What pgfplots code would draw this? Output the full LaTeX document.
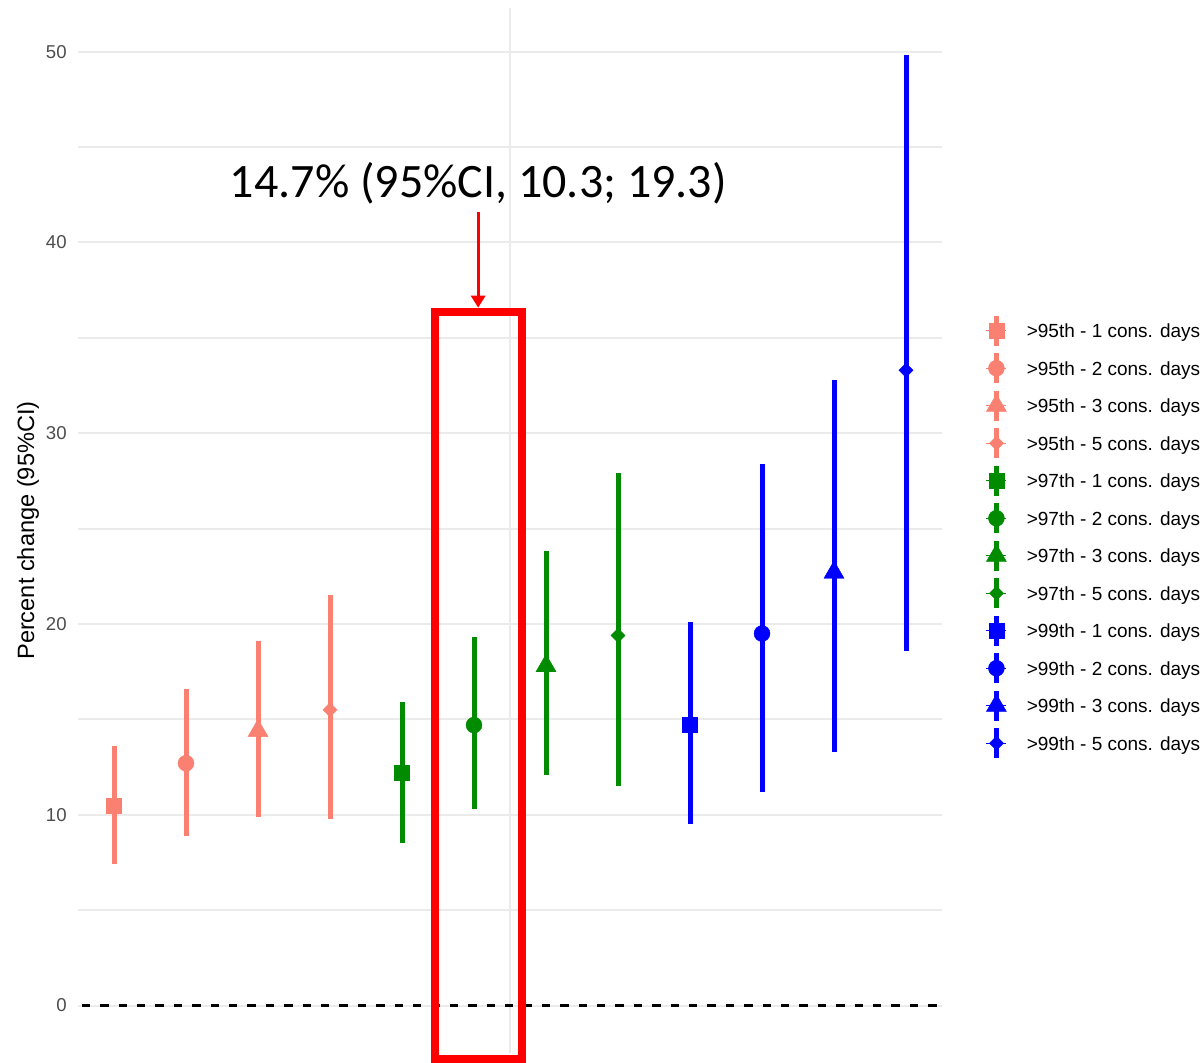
\documentclass[border=0pt]{standalone}
\usepackage{pgfplots}
\pgfplotsset{compat=1.18}
\usepackage{fontspec}
\setmainfont{Liberation Sans}
\newfontfamily\carlito{Carlito}
\usetikzlibrary{arrows.meta}

\definecolor{c95}{HTML}{FA8072}
\definecolor{c97}{HTML}{008B00}
\definecolor{c99}{HTML}{0000FF}
\definecolor{gridgray}{HTML}{EBEBEB}
\definecolor{tickgray}{HTML}{4D4D4D}

\pgfplotsset{
  % point estimate drawn as a mark over its confidence interval
  pointrange/.style={only marks, mark options={solid, line width=0.2pt},
    error bars/y dir=both, error bars/y explicit, error bars/error mark=none,
    error bars/error bar style={line width=2.5pt, solid}},
  diamondmark/.style={mark=square*, mark size=2.5pt,
    mark options={solid, line width=0.2pt, rotate=45}},
  /pgfplots/table/ci/.style={x=x, y=est,
    y error plus expr=\thisrow{hi}-\thisrow{est},
    y error minus expr=\thisrow{est}-\thisrow{lo}},
}

\begin{document}
\begin{tikzpicture}
\useasboundingbox (0,0) rectangle (601pt,531pt);
\begin{axis}[
  at={(39pt,4.5pt)}, anchor=south west,
  scale only axis, width=432pt, height=522.5pt,
  xmin=0.5, xmax=12.5, ymin=-2.49, ymax=52.29,
  clip=false,
  axis line style={draw=none},
  major tick length=0pt, minor tick length=0pt,
  xtick={6.5}, xticklabels={},
  ytick={0,10,20,30,40,50},
  minor ytick={5,15,25,35,45},
  xmajorgrids, ymajorgrids, yminorgrids,
  major grid style={color=gridgray, line width=1pt},
  minor grid style={color=gridgray, line width=1pt},
  /pgf/number format/assume math mode=true,
  yticklabel style={font=\fontsize{9.3}{11}\selectfont, text=tickgray,
    anchor=east, inner sep=0pt, xshift=-5.5pt},
  ylabel={Percent change (95\%CI)},
  every axis y label/.style={at={(axis description cs:-0.0579,0.5)},
    rotate=90, anchor=center, font=\fontsize{11.8}{14}\selectfont},
  legend image code/.code={
    \draw[#1, mark=none, line width=2.3pt, overlay] (0pt,-7.5pt) -- (0pt,7.5pt);
    \draw[#1, overlay] plot coordinates {(0pt,0pt)};
    \path (-5pt,0pt) -- (5pt,0pt);
  },
  legend style={at={(1,0.4938)}, anchor=west, xshift=22pt,
    draw=none, fill=none, inner sep=0pt, outer sep=0pt,
    font=\fontsize{9.5}{11}\selectfont, text=black,
    nodes={inner sep=0pt, text height=8.8pt, text depth=2pt},
    row sep=7.95pt,
    /tikz/every odd column/.append style={column sep=10pt}},
  legend cell align=left,
]
% reference line at zero
\addplot[black, line width=1.3pt, dash pattern=on 4.2pt off 5pt, dash phase=7.3pt, forget plot]
  coordinates {(0.5,0) (12.5,0)};

% >95th percentile
\addplot[c95, mark=square*, mark size=3.75pt, pointrange] table[ci] {
x est lo hi
1 10.5 7.4 13.6
};
\addlegendentry{>95th - 1 cons. days}
\addplot[c95, mark=*, mark size=4pt, pointrange] table[ci] {
x est lo hi
2 12.7 8.9 16.6
};
\addlegendentry{>95th - 2 cons. days}
\addplot[c95, mark=triangle*, mark size=5.8pt, pointrange] table[ci] {
x est lo hi
3 14.4 9.9 19.1
};
\addlegendentry{>95th - 3 cons. days}
\addplot[c95, pointrange, diamondmark] table[ci] {
x est lo hi
4 15.5 9.8 21.5
};
\addlegendentry{>95th - 5 cons. days}

% >97th percentile
\addplot[c97, mark=square*, mark size=3.75pt, pointrange] table[ci] {
x est lo hi
5 12.2 8.5 15.9
};
\addlegendentry{>97th - 1 cons. days}
\addplot[c97, mark=*, mark size=4pt, pointrange] table[ci] {
x est lo hi
6 14.7 10.3 19.3
};
\addlegendentry{>97th - 2 cons. days}
\addplot[c97, mark=triangle*, mark size=5.8pt, pointrange] table[ci] {
x est lo hi
7 17.8 12.1 23.8
};
\addlegendentry{>97th - 3 cons. days}
\addplot[c97, pointrange, diamondmark] table[ci] {
x est lo hi
8 19.4 11.5 27.9
};
\addlegendentry{>97th - 5 cons. days}

% >99th percentile
\addplot[c99, mark=square*, mark size=3.75pt, pointrange] table[ci] {
x est lo hi
9 14.7 9.5 20.1
};
\addlegendentry{>99th - 1 cons. days}
\addplot[c99, mark=*, mark size=4pt, pointrange] table[ci] {
x est lo hi
10 19.5 11.2 28.4
};
\addlegendentry{>99th - 2 cons. days}
\addplot[c99, mark=triangle*, mark size=5.8pt, pointrange] table[ci] {
x est lo hi
11 22.7 13.3 32.8
};
\addlegendentry{>99th - 3 cons. days}
\addplot[c99, pointrange, diamondmark] table[ci] {
x est lo hi
12 33.3 18.6 49.8
};
\addlegendentry{>99th - 5 cons. days}

% highlighted estimate
\draw[red, line width=4pt] (axis cs:5.458,-2.78) rectangle (axis cs:6.667,36.37);
\draw[red, line width=1.5pt, -{Triangle[width=7pt,length=6pt]}]
  (axis cs:6.058,41.61) -- (axis cs:6.058,36.58);
\node[anchor=base, font=\carlito\fontsize{24}{28}\selectfont, text=black]
  at (axis cs:6.06,42.35) {14.7\% (95\%CI, 10.3; 19.3)};
\end{axis}
\end{tikzpicture}
\end{document}
